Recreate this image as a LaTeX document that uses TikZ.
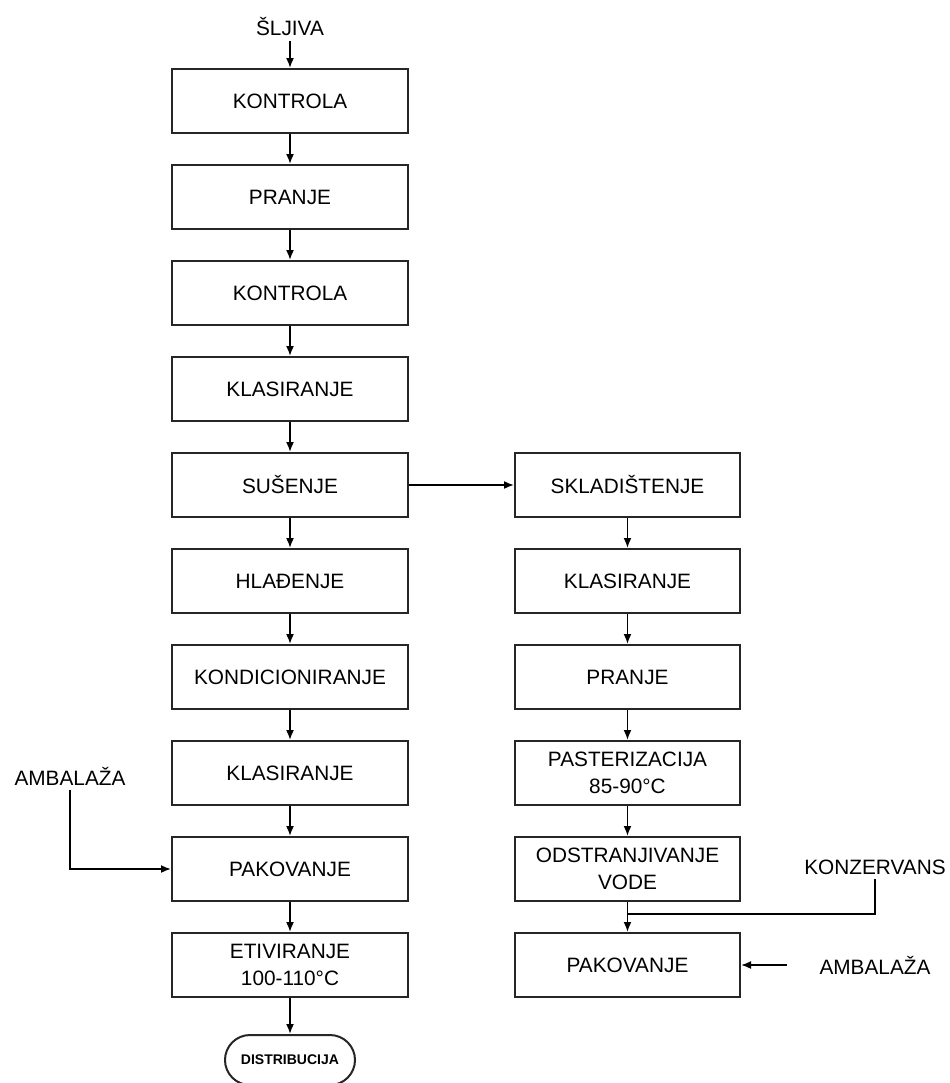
\documentclass[tikz,border=0pt]{standalone}
\usepackage{fontspec}
\setmainfont{Liberation Sans}
\usetikzlibrary{arrows.meta}
\usetikzlibrary{shapes.misc}
\tikzset{
    proc/.style={
        draw=black!85, line width=1pt,
        minimum height=32pt, inner sep=0pt, align=center,
        font=\fontsize{10.4}{13.5}\selectfont
    },
    procl/.style={proc, minimum width=118pt},
    procr/.style={proc, minimum width=112.5pt},
    lbl/.style={inner sep=2pt, font=\fontsize{10.4}{13.5}\selectfont},
    flow/.style={line width=0.85pt, -{Latex[length=5pt,width=4pt]}},
    feed/.style={line width=0.85pt}
}
\newcommand{\leftbox}[3] {
	\node[procl] (#1) at (290,#2) {#3};
}
\newcommand{\rightbox}[3] {
	\node[procr] (#1) at (627.5,#2) {#3};
}

\begin{document}
\begin{tikzpicture}[x=0.5pt,y=-0.5pt]
		\useasboundingbox (0,0) rectangle (949,1083);

		% main line
		\node[lbl] (sljiva) at (290,27) {ŠLJIVA};
		\leftbox{kontrola1}{101}{KONTROLA}
		\leftbox{pranje1}{197}{PRANJE}
		\leftbox{kontrola2}{293}{KONTROLA}
		\leftbox{klas1}{389}{KLASIRANJE}
		\leftbox{susenje}{485}{SUŠENJE}
		\leftbox{hladenje}{581}{HLAĐENJE}
		\leftbox{kondic}{677}{KONDICIONIRANJE}
		\leftbox{klas2}{773}{KLASIRANJE}
		\leftbox{pak1}{869}{PAKOVANJE}
		\leftbox{etiv}{965}{ETIVIRANJE\\100-110°C}
		\node[draw=black!85, line width=1pt, rounded rectangle, inner sep=0pt,
			minimum width=65pt, minimum height=25pt,
			font=\bfseries\fontsize{7}{8}\selectfont] (distr) at (290,1060) {DISTRIBUCIJA};

		\draw[flow] (sljiva.south) -- (kontrola1);
		\draw[flow] (kontrola1) -- (pranje1);
		\draw[flow] (pranje1) -- (kontrola2);
		\draw[flow] (kontrola2) -- (klas1);
		\draw[flow] (klas1) -- (susenje);
		\draw[flow] (susenje) -- (hladenje);
		\draw[flow] (hladenje) -- (kondic);
		\draw[flow] (kondic) -- (klas2);
		\draw[flow] (klas2) -- (pak1);
		\draw[flow] (pak1) -- (etiv);
		\draw[flow] (etiv) -- (distr);

		% packaging, left
		\node[lbl] (amb1) at (70,776) {AMBALAŽA};
		\draw[flow] (amb1.south) |- (pak1.west);

		% second line
		\rightbox{sklad}{485}{SKLADIŠTENJE}
		\rightbox{klas3}{581}{KLASIRANJE}
		\rightbox{pranje2}{677}{PRANJE}
		\rightbox{paster}{773}{PASTERIZACIJA\\85-90°C}
		\rightbox{odstr}{869}{ODSTRANJIVANJE\\VODE}
		\rightbox{pak2}{965}{PAKOVANJE}

		\draw[flow] (susenje) -- (sklad);
		\draw[flow] (sklad) -- (klas3);
		\draw[flow] (klas3) -- (pranje2);
		\draw[flow] (pranje2) -- (paster);
		\draw[flow] (paster) -- (odstr);
		\draw[flow] (odstr) -- (pak2);

		% preservative and packaging, right
		\node[lbl] (konz) at (875,867) {KONZERVANS};
		\coordinate (merge) at (627.5,914);
		\draw[feed] (konz.south) |- (merge);

		\node[lbl] (amb2) at (875,965) {AMBALAŽA};
		\coordinate (amb2in) at (787,965);
		\draw[flow] (amb2in) -- (pak2.east);

	\end{tikzpicture}
\end{document}
